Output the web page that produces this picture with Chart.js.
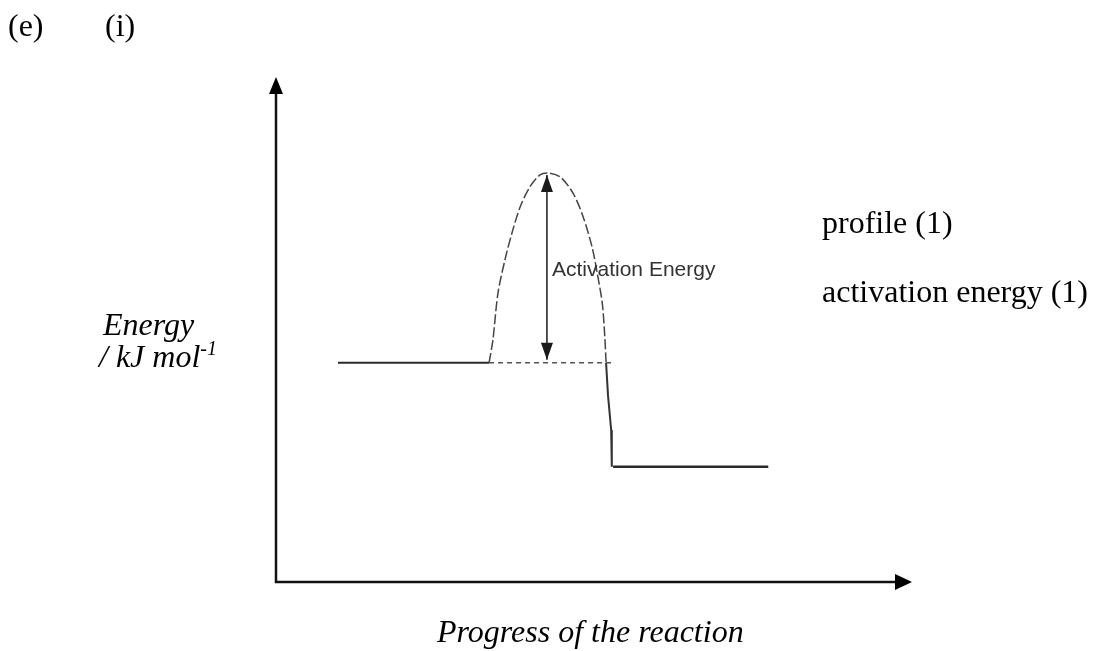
<!DOCTYPE html>
<html>
<head>
<meta charset="utf-8">
<script src="https://cdn.jsdelivr.net/npm/chart.js@4"></script>
<style>
  html, body { margin: 0; padding: 0; background: #fff; }
  #wrap { position: relative; width: 1095px; height: 651px; overflow: hidden; }
  #chart { position: absolute; left: 0; top: 0; }
  .lbl { position: absolute; white-space: nowrap; line-height: 1; color: #000;
         font-family: "Liberation Serif", "Times New Roman", serif; font-size: 32px; }
  .it { font-style: italic; }
  .sans { font-family: "Liberation Sans", Arial, sans-serif; font-size: 21px; color: #333; }
  sup { font-size: 20px; vertical-align: 12px; line-height: 0; }
</style>
</head>
<body>
<div id="wrap">
  <canvas id="chart" width="1095" height="651"></canvas>
  <div class="lbl" style="left:8px; top:9px;">(e)</div>
  <div class="lbl" style="left:105px; top:9px;">(i)</div>
  <div class="lbl it" style="left:103px; top:308px;">Energy</div>
  <div class="lbl it" style="left:99px; top:340px;">/ kJ mol<sup>-1</sup></div>
  <div class="lbl" style="left:822px; top:206px;">profile (1)</div>
  <div class="lbl" style="left:822px; top:275px;">activation energy (1)</div>
  <div class="lbl it" style="left:437px; top:615px;">Progress of the reaction</div>
  <div class="lbl sans" style="left:552px; top:258px;">Activation Energy</div>
</div>
<script>
// energy profile (progress 0-100, energy 0-100)
const reactantProgress = [9.75, 33.5];
const reactantEnergy = [43.4, 43.4];

const baselineProgress = [33.5, 53.3];
const baselineEnergy = [43.4, 43.4];

const humpProgress = [33.5, 34.1, 34.9, 36.0, 37.1, 38.4, 39.9, 41.5, 42.8, 44.7, 46.7, 48.3, 49.7, 50.5, 51.3, 51.7, 51.9];
const humpEnergy   = [43.4, 47.9, 57.2, 63.8, 69.1, 74.3, 78.2, 80.6, 81.0, 80.2, 77.0, 72.3, 66.3, 61.2, 55.2, 48.5, 43.4];

const dropProgress = [51.9, 52.2, 52.7, 52.8];
const dropEnergy   = [43.4, 37.0, 30.1, 22.8];

const productProgress = [53.0, 77.4];
const productEnergy = [22.8, 22.8];

const arrowProgress = [42.6, 42.6];
const arrowEnergy = [44.0, 80.6];

function pts(xs, ys) {
    return xs.map((x, i) => ({ x: x, y: ys[i] }));
}

function head(ctx, tipX, tipY, fromX, fromY, len, half) {
    const a = Math.atan2(tipY - fromY, tipX - fromX);
    ctx.beginPath();
    ctx.moveTo(tipX, tipY);
    ctx.lineTo(tipX - len * Math.cos(a) + half * Math.sin(a), tipY - len * Math.sin(a) - half * Math.cos(a));
    ctx.lineTo(tipX - len * Math.cos(a) - half * Math.sin(a), tipY - len * Math.sin(a) + half * Math.cos(a));
    ctx.closePath();
    ctx.fill();
}

// axes with arrow tips, drawn from the scales
const axesPlugin = {
    id: 'axesArrows',
    beforeDatasetsDraw(chart) {
        const ctx = chart.ctx;
        const xs = chart.scales.x, ys = chart.scales.y;
        const x0 = xs.getPixelForValue(xs.min), x1 = xs.getPixelForValue(xs.max);
        const y0 = ys.getPixelForValue(ys.min), y1 = ys.getPixelForValue(ys.max);
        ctx.save();
        ctx.strokeStyle = '#111';
        ctx.fillStyle = '#000';
        ctx.lineWidth = 2.5;
        ctx.beginPath();
        ctx.moveTo(x0, y1 + 10);
        ctx.lineTo(x0, y0);
        ctx.lineTo(x1 - 10, y0);
        ctx.stroke();
        head(ctx, x0, y1, x0, y0, 17, 7);
        head(ctx, x1, y0, x0, y0, 17, 8);
        ctx.restore();
    }
};

// arrow heads on both ends of datasets flagged with arrowHeads
const arrowPlugin = {
    id: 'arrowHeads',
    afterDatasetsDraw(chart) {
        const ctx = chart.ctx;
        chart.data.datasets.forEach((ds, i) => {
            if (!ds.arrowHeads) return;
            const p = chart.getDatasetMeta(i).data;
            const a = p[0], b = p[p.length - 1];
            ctx.save();
            ctx.fillStyle = '#1a1a1a';
            head(ctx, a.x, a.y, b.x, b.y, 17, 6);
            head(ctx, b.x, b.y, a.x, a.y, 17, 6);
            ctx.restore();
        });
    }
};

const line = (data, color, width, dash, extra) => Object.assign({
    data: data,
    showLine: true,
    borderColor: color,
    borderWidth: width,
    borderDash: dash,
    pointRadius: 0,
    fill: false
}, extra || {});

new Chart(document.getElementById('chart').getContext('2d'), {
    type: 'scatter',
    data: {
        datasets: [
            line(pts(reactantProgress, reactantEnergy), '#2a2a2a', 2, []),
            line(pts(baselineProgress, baselineEnergy), '#555', 1.5, [5, 4]),
            line(pts(humpProgress, humpEnergy), '#444', 1.5, [10, 3], { tension: 0.3 }),
            line(pts(dropProgress, dropEnergy), '#333', 2, []),
            line(pts(productProgress, productEnergy), '#2a2a2a', 2.5, []),
            line(pts(arrowProgress, arrowEnergy), '#1a1a1a', 1.5, [], { arrowHeads: true })
        ]
    },
    options: {
        responsive: false,
        animation: false,
        devicePixelRatio: 1,
        layout: { padding: { left: 276, top: 77, right: 183, bottom: 69 } },
        plugins: { legend: { display: false }, tooltip: { enabled: false } },
        scales: {
            x: { type: 'linear', min: 0, max: 100, display: false },
            y: { type: 'linear', min: 0, max: 100, display: false }
        }
    },
    plugins: [axesPlugin, arrowPlugin]
});
</script>
</body>
</html>
